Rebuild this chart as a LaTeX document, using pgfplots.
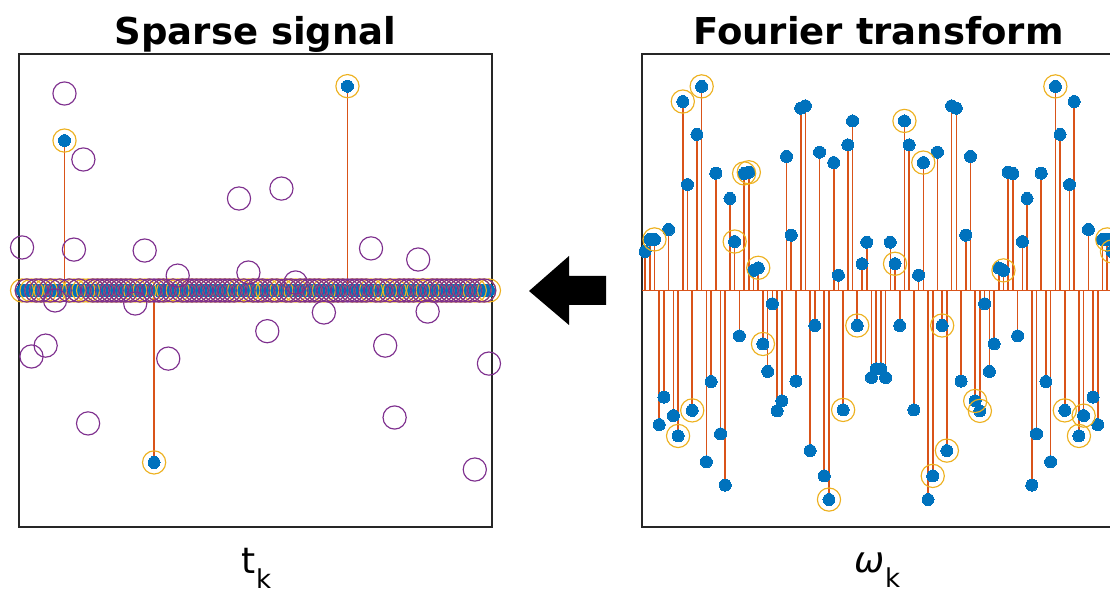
\documentclass[border=0pt]{standalone}
\usepackage{pgfplots}
\usepackage{pgfplotstable}
\pgfplotsset{compat=1.18}
\usepackage{fontspec}
\setmainfont{DejaVu Sans}

\definecolor{mblue}{RGB}{0,114,189}
\definecolor{mred}{RGB}{217,83,25}
\definecolor{myellow}{RGB}{237,177,32}
\definecolor{mpurple}{RGB}{126,47,142}

% n, true sparse signal x, recovered estimate xh
\pgfplotstableread{
n x xh
1 0 0.182
2 0 0
3 0 -0.279
4 0 0
5 0 0
6 0 -0.233
7 0 0
8 0 -0.042
9 0 0
10 0.634 0.833
11 0 0
12 0 0.173
13 0 0
14 0 0.554
15 0 -0.562
16 0 0
17 0 0
18 0 0
19 0 0
20 0 0
21 0 0
22 0 0
23 0 0
24 0 0
25 0 -0.055
26 0 0
27 0 0.169
28 0 0
29 -0.727 0
30 0 0
31 0 0
32 0 -0.288
33 0 0
34 0 0.063
35 0 0
36 0 0
37 0 0
38 0 0
39 0 0
40 0 0
41 0 0
42 0 0
43 0 0
44 0 0
45 0 0
46 0 0
47 0 0.389
48 0 0
49 0 0.076
50 0 0
51 0 0
52 0 0
53 0 -0.172
54 0 0
55 0 0
56 0 0.431
57 0 0
58 0 0
59 0 0.034
60 0 0
61 0 0
62 0 0
63 0 0
64 0 0
65 0 -0.093
66 0 0
67 0 0
68 0 0
69 0 0
70 0.864 0
71 0 0
72 0 0
73 0 0
74 0 0
75 0 0.178
76 0 0
77 0 0
78 0 -0.233
79 0 0
80 0 -0.537
81 0 0
82 0 0
83 0 0
84 0 0
85 0 0.131
86 0 0
87 0 -0.089
88 0 0
89 0 0
90 0 0
91 0 0
92 0 0
93 0 0
94 0 0
95 0 0
96 0 0
97 0 -0.757
98 0 0
99 0 0
100 0 -0.309
}\sparsetab

% n, transform value X, sampled value S (nan where not sampled)
\pgfplotstableread{
n X S
1 0.165 nan
2 0.216 nan
3 0.216 0.216
4 -0.567 nan
5 -0.451 nan
6 0.258 nan
7 -0.529 nan
8 -0.615 -0.615
9 0.799 0.799
10 0.448 nan
11 -0.507 -0.507
12 0.660 nan
13 0.863 0.863
14 -0.724 nan
15 -0.385 nan
16 0.496 nan
17 -0.606 nan
18 -0.823 nan
19 0.389 nan
20 0.207 0.207
21 -0.192 nan
22 0.495 0.495
23 0.500 0.500
24 0.085 nan
25 0.096 0.096
26 -0.226 -0.226
27 -0.342 nan
28 -0.056 nan
29 -0.509 nan
30 -0.467 nan
31 0.567 nan
32 0.234 nan
33 -0.383 nan
34 0.771 nan
35 0.781 nan
36 -0.677 nan
37 -0.148 nan
38 0.585 nan
39 -0.784 nan
40 -0.884 -0.884
41 0.541 nan
42 0.065 nan
43 -0.505 -0.505
44 0.616 nan
45 0.717 nan
46 -0.148 -0.148
47 0.113 nan
48 0.204 nan
49 -0.368 nan
50 -0.331 nan
51 -0.331 nan
52 -0.368 nan
53 0.204 nan
54 0.113 0.113
55 -0.148 nan
56 0.717 0.717
57 0.616 nan
58 -0.505 nan
59 0.065 nan
60 0.541 0.541
61 -0.884 nan
62 -0.784 -0.784
63 0.585 nan
64 -0.148 -0.148
65 -0.677 -0.677
66 0.781 nan
67 0.771 nan
68 -0.383 nan
69 0.234 nan
70 0.567 nan
71 -0.467 -0.467
72 -0.509 -0.509
73 -0.056 nan
74 -0.342 nan
75 -0.226 nan
76 0.096 nan
77 0.085 0.085
78 0.500 nan
79 0.495 nan
80 -0.192 nan
81 0.207 nan
82 0.389 nan
83 -0.823 nan
84 -0.606 nan
85 0.496 nan
86 -0.385 nan
87 -0.724 nan
88 0.863 0.863
89 0.660 nan
90 -0.507 -0.507
91 0.448 nan
92 0.799 nan
93 -0.615 -0.615
94 -0.529 -0.529
95 0.258 nan
96 -0.451 nan
97 -0.567 nan
98 0.216 nan
99 0.216 0.216
100 0.165 0.165
}\fouriertab

\pgfplotsset{
  panel/.style={
    scale only axis, width=473pt, height=473pt,
    xmin=0.35, xmax=100.65, ymin=-1, ymax=1,
    xtick=\empty, ytick=\empty,
    axis line style={black!85, line width=1.2pt},
    clip=false, unbounded coords=discard,
  },
  stems/.style={ycomb, draw=mred, line width=1.6pt, mark=none},
  dots/.style={only marks, mark=*, mark size=6pt,
    mark options={draw=mblue, fill=mblue, line width=0pt}},
  ring/.style={only marks, mark=o, mark size=11.6pt,
    mark options={draw=#1, line width=1.15pt}},
}

\begin{document}
\begin{tikzpicture}

% time domain: sparse signal and its estimate
\begin{axis}[panel, at={(19pt,65pt)}, anchor=south west]
  \addplot[stems] table[x=n, y=x] {\sparsetab};
  \addplot[mred, line width=1.6pt] coordinates {(0.35,0) (100.65,0)};
  \addplot[dots] table[x=n, y=x] {\sparsetab};
  \addplot[ring=myellow] table[x=n, y=x] {\sparsetab};
  \addplot[ring=mpurple] table[x=n, y=xh] {\sparsetab};
\end{axis}

% frequency domain: transform with sampled entries ringed
\begin{axis}[panel, at={(642pt,65pt)}, anchor=south west]
  \addplot[stems] table[x=n, y=X] {\fouriertab};
  \addplot[mred, line width=1.6pt] coordinates {(0.35,0) (100.65,0)};
  \addplot[dots] table[x=n, y=X] {\fouriertab};
  \addplot[ring=myellow] table[x=n, y=S] {\fouriertab};
\end{axis}

% titles
\node[anchor=base, inner sep=0, font=\fontsize{37}{40}\selectfont\bfseries]
  at (255.5pt,547pt) {Sparse signal};
\node[anchor=base, inner sep=0, font=\fontsize{37}{40}\selectfont\bfseries]
  at (878.5pt,547pt) {Fourier transform};

% axis labels
\node[anchor=base, inner sep=0] at (256.5pt,19pt)
  {\fontsize{36}{40}\selectfont t\raisebox{-15pt}{\fontsize{26}{28}\selectfont k}};
\node[anchor=base, inner sep=0] at (877.5pt,20pt)
  {\fontsize{36}{40}\selectfont\itshape ω\raisebox{-15pt}{\upshape\fontsize{26}{28}\selectfont k}};

% arrow between the panels
\fill[black] (529pt,301pt) -- (569pt,336pt) -- (569pt,316pt) -- (606pt,316pt)
  -- (606pt,287pt) -- (569pt,287pt) -- (569pt,267pt) -- cycle;

\pgfresetboundingbox
\path[use as bounding box] (0pt,0pt) rectangle (1110pt,592pt);
\end{tikzpicture}
\end{document}
